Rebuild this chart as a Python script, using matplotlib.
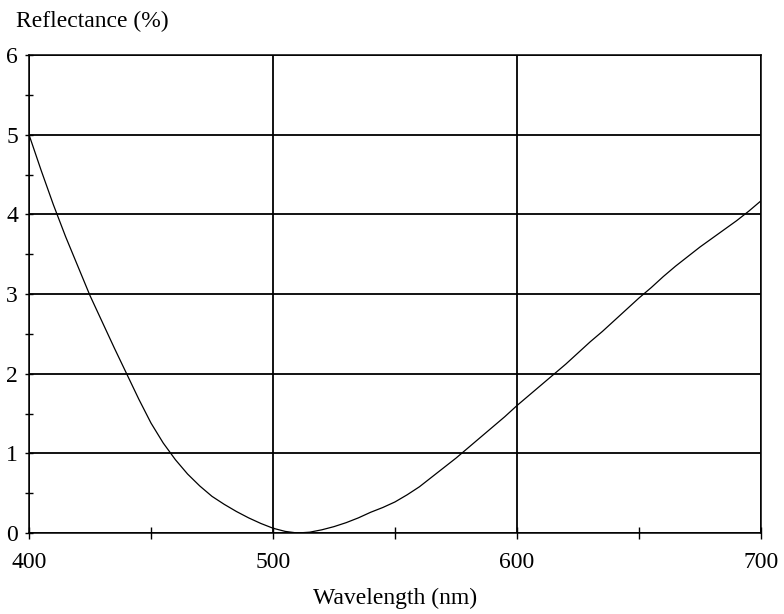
import matplotlib
matplotlib.use("Agg")
import matplotlib.pyplot as plt
from matplotlib.ticker import MultipleLocator

plt.rcParams['font.family'] = ['Liberation Serif', 'DejaVu Serif']

# reflectance curve (every 5 nm)
wavelength = [400, 405, 410, 415, 420, 425, 430, 435, 440, 445, 450, 455,
              460, 465, 470, 475, 480, 485, 490, 495, 500, 505, 510, 515,
              520, 525, 530, 535, 540, 545, 550, 555, 560, 565, 570, 575,
              580, 585, 590, 595, 600, 605, 610, 615, 620, 625, 630, 635,
              640, 645, 650, 655, 660, 665, 670, 675, 680, 685, 690, 695, 700]
reflectance = [5.0, 4.55, 4.12, 3.72, 3.35, 2.98, 2.65, 2.32, 2.0, 1.68, 1.38, 1.13,
               0.92, 0.74, 0.59, 0.46, 0.36, 0.27, 0.19, 0.12, 0.06, 0.02, 0.0, 0.01,
               0.04, 0.08, 0.13, 0.19, 0.26, 0.32, 0.39, 0.48, 0.58, 0.70, 0.82, 0.94,
               1.07, 1.20, 1.33, 1.46, 1.6, 1.73, 1.86, 1.99, 2.12, 2.26, 2.4, 2.53,
               2.67, 2.81, 2.95, 3.08, 3.22, 3.35, 3.47, 3.59, 3.70, 3.81, 3.92, 4.04, 4.17]

xticks = [400, 500, 600, 700]
yticks = [0, 1, 2, 3, 4, 5, 6]

fig = plt.figure(figsize=(7.84, 6.14), dpi=100)
ax = fig.add_axes([29/784, 1 - 533/614, (761 - 29)/784, (533 - 55)/614])

ax.plot(wavelength, reflectance, color='black', lw=0.9)

ax.set_xlim(400, 700)
ax.set_ylim(0, 6)
ax.set_xticks(xticks)
ax.set_yticks(yticks)
ax.xaxis.set_minor_locator(MultipleLocator(50))
ax.yaxis.set_minor_locator(MultipleLocator(0.5))
ax.grid(True, which='major', color='black', lw=1.3)
ax.tick_params(which='both', direction='inout', labelsize=17, color='black')
ax.tick_params(axis='y', which='major', length=6, width=1, pad=5)
ax.tick_params(axis='y', which='minor', length=6, width=1)
ax.tick_params(axis='x', which='major', length=8, width=1, pad=10)
ax.tick_params(axis='x', which='minor', length=8, width=1)
for s in ax.spines.values():
    s.set_linewidth(1.1)

fig.text(395/784, 1 - 598/614, 'Wavelength (nm)', ha='center', va='center', fontsize=17)
fig.text(16/784, 1 - 21/614, 'Reflectance (%)', ha='left', va='center', fontsize=17)

fig.savefig('out.png', dpi=100)
